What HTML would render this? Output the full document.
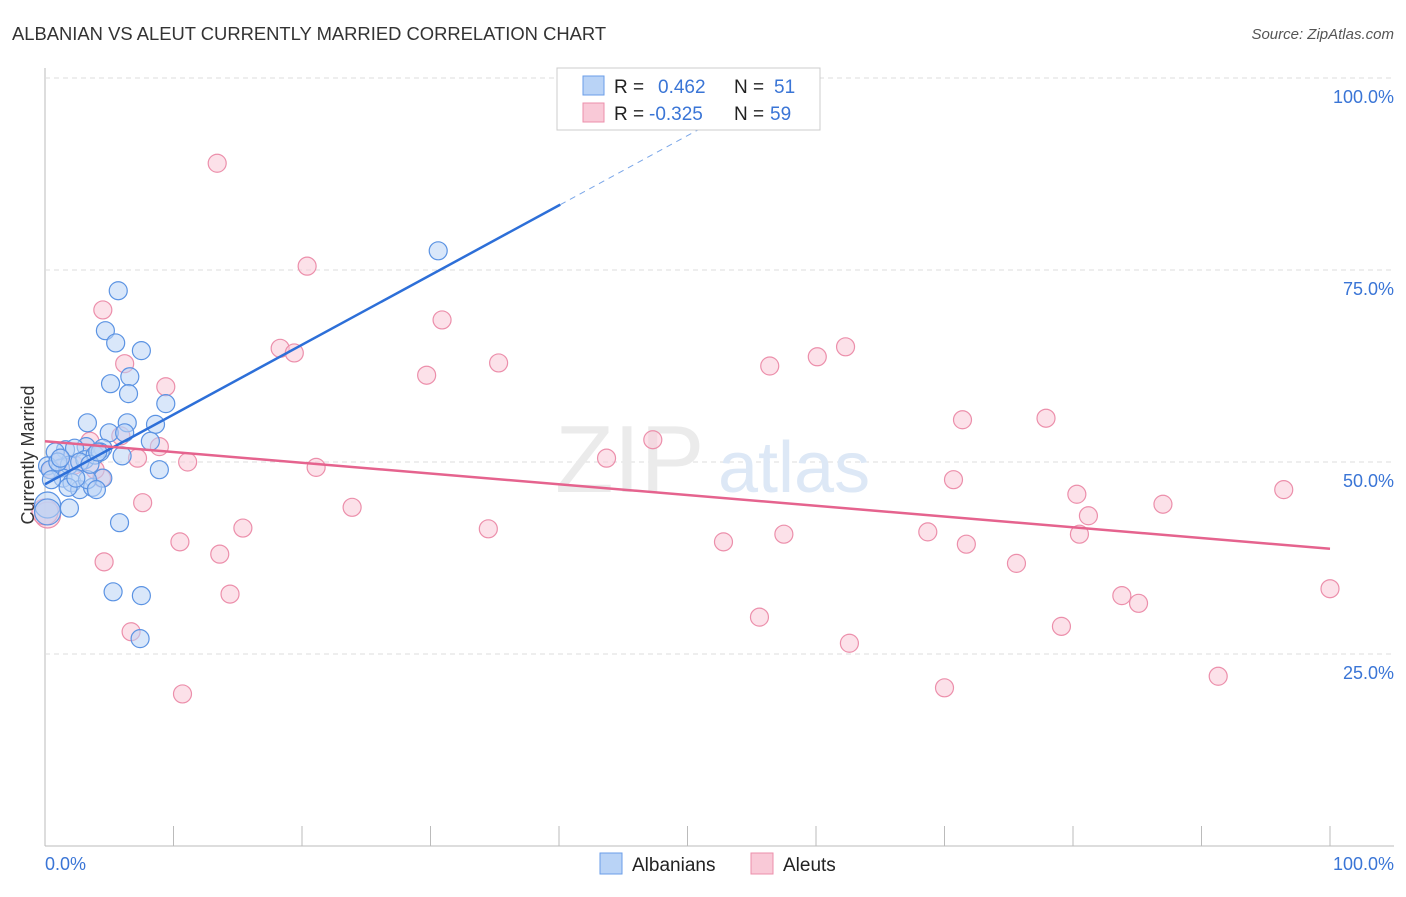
<!DOCTYPE html>
<html><head><meta charset="utf-8"><style>
body{margin:0;background:#fff;font-family:"Liberation Sans",sans-serif;}
svg text{font-family:"Liberation Sans",sans-serif;}
</style></head><body>
<svg id="chart" width="1406" height="892" xmlns="http://www.w3.org/2000/svg">
<text x="12" y="40" font-size="18.4" fill="#333">ALBANIAN VS ALEUT CURRENTLY MARRIED CORRELATION CHART</text>
<text x="1394" y="39" font-size="15" fill="#555" font-style="italic" text-anchor="end">Source: ZipAtlas.com</text>
<g id="grid"></g>
<text x="555" y="492" font-size="96" fill="#ebebeb" font-family="Liberation Serif">ZIP</text>
<text x="718" y="492" font-size="72" fill="#dde8f6">atlas</text>
<g id="pts"></g>
<g id="lines"></g>
<text x="34" y="455" font-size="18" fill="#333" text-anchor="middle" transform="rotate(-90 34 455)">Currently Married</text>
<text x="45" y="870" font-size="18" fill="#3a75d6">0.0%</text>
<text x="1394" y="870" font-size="18" fill="#3a75d6" text-anchor="end">100.0%</text>
<g>
<rect x="557" y="68" width="263" height="62" fill="#fff" stroke="#ccc"/>
<rect x="583" y="76" width="21" height="19" fill="#b9d3f6" stroke="#6a9ee8"/>
<rect x="583" y="103" width="21" height="19" fill="#f9c9d7" stroke="#ec8fab"/>
<text x="614" y="93" font-size="19" fill="#222">R = <tspan x="658" fill="#3a75d6">0.462</tspan><tspan x="734" fill="#222">N = </tspan><tspan x="774" fill="#3a75d6">51</tspan></text>
<text x="614" y="120" font-size="19" fill="#222">R = <tspan x="649" fill="#3a75d6">-0.325</tspan><tspan x="734" fill="#222">N = </tspan><tspan x="770" fill="#3a75d6">59</tspan></text>
</g>
<g>
<rect x="600" y="853" width="22" height="21" fill="#b9d3f6" stroke="#6a9ee8"/>
<text x="632" y="871" font-size="19" fill="#222">Albanians</text>
<rect x="751" y="853" width="22" height="21" fill="#f9c9d7" stroke="#ec8fab"/>
<text x="783" y="871" font-size="19" fill="#222">Aleuts</text>
</g>
</svg>
<script>
const yTicks=[25,50,75,100];
const yTickLabels=["25.0%","50.0%","75.0%","100.0%"];
const xTicks=[0,10,20,30,40,50,60,70,80,90,100];
const blueX=[5.7,4.7,5.5,7.5,5.1,6.6,6.5,9.4,3.3,6.4,8.6,5.0,6.2,8.2,3.2,4.5,6.0,8.9,1.6,0.8,2.3,0.2,1.2,1.9,3.1,3.9,4.3,1.4,2.1,2.7,3.7,4.5,3.3,0.4,1.0,1.8,4.0,1.9,0.2,0.2,5.8,5.3,7.5,7.4,30.6,1.2,2.7,3.5,0.5,2.4,4.1];
const blueY=[72.3,67.1,65.5,64.5,60.2,61.1,58.9,57.6,55.1,55.1,54.9,53.8,53.8,52.7,52.0,51.8,50.8,49.0,51.6,51.3,51.8,49.5,49.2,49.6,50.3,50.9,51.3,47.9,47.3,46.4,46.7,47.9,47.7,49.0,50.0,46.7,46.4,44.0,44.4,43.5,42.1,33.1,32.6,27.0,77.5,50.5,50.0,49.7,47.7,47.9,51.3];
const pinkX=[13.4,20.4,4.5,30.9,18.3,19.4,35.3,29.7,6.2,9.4,5.9,3.5,8.9,7.2,11.1,21.1,1.2,2.3,0.5,4.4,7.6,23.9,15.4,34.5,10.5,13.6,4.6,14.4,6.7,10.7,47.3,43.7,56.4,60.1,62.3,71.4,77.9,70.7,80.3,81.2,80.5,87.0,96.4,68.7,71.7,57.5,52.8,75.6,83.8,85.1,100,79.1,55.6,62.6,70.0,91.3,0.2,0.0,3.9];
const pinkY=[88.9,75.5,69.8,68.5,64.8,64.2,62.9,61.3,62.8,59.8,53.4,52.7,52.0,50.5,50.0,49.3,50.5,49.6,49.0,47.9,44.7,44.1,41.4,41.3,39.6,38.0,37.0,32.8,27.9,19.8,52.9,50.5,62.5,63.7,65.0,55.5,55.7,47.7,45.8,43.0,40.6,44.5,46.4,40.9,39.3,40.6,39.6,36.8,32.6,31.6,33.5,28.6,29.8,26.4,20.6,22.1,43.1,43.5,49.0];
const blueTrend=[47.1,0.908];
const pinkTrend=[52.7,-0.14];
const NS="http://www.w3.org/2000/svg";
const sx=v=>45+v*12.85, sy=v=>846-v*7.68;
function mk(t,a,p){const e=document.createElementNS(NS,t);for(const k in a)e.setAttribute(k,a[k]);p.appendChild(e);return e;}
const grid=document.getElementById('grid');
let ax=mk('line',{x1:45,y1:68,x2:45,y2:846,stroke:'#bbb'},grid);


let bx=mk('line',{x1:45,y1:846,x2:1394,y2:846,stroke:'#bbb'},grid);


yTicks.forEach((t,i)=>{
 let l=mk('line',{x1:45,y1:sy(t),x2:1394,y2:sy(t),stroke:'#ddd','stroke-dasharray':'5,4'},grid);
 
 
 let tx=mk('text',{x:1394,y:sy(t)+25,'font-size':18,fill:'#3a75d6','text-anchor':'end'},grid);
 tx.textContent=yTickLabels[i];
 
 
});
xTicks.forEach(t=>{
 let l=mk('line',{x1:sx(t),y1:826,x2:sx(t),y2:846,stroke:'#bbb'},grid);
 
 
});
const pts=document.getElementById('pts');
function dot(x,y,fill,stroke,name){
 const big=x<0.5&&y<46;
 let c=mk('circle',{cx:sx(x),cy:sy(y),r:big?13:9,fill:fill,'fill-opacity':0.55,stroke:stroke,'stroke-width':1.2},pts);
 
 
}
pinkX.forEach((x,i)=>dot(x,pinkY[i],'#f9c9d7','#ec8fab','aleut-point'));
blueX.forEach((x,i)=>dot(x,blueY[i],'#b9d3f6','#5b93e3','albanian-point'));
const lines=document.getElementById('lines');
let bl=mk('line',{x1:sx(0),y1:sy(blueTrend[0]),x2:sx(40.1),y2:sy(blueTrend[0]+blueTrend[1]*40.1),stroke:'#2d6fd8','stroke-width':2.5},lines);


let bd=mk('line',{x1:sx(40.1),y1:sy(blueTrend[0]+blueTrend[1]*40.1),x2:sx(54),y2:sy(blueTrend[0]+blueTrend[1]*54),stroke:'#7aa6e8','stroke-width':1,'stroke-dasharray':'6,5'},lines);


let pl=mk('line',{x1:sx(0),y1:sy(pinkTrend[0]),x2:sx(100),y2:sy(pinkTrend[0]+pinkTrend[1]*100),stroke:'#e5638e','stroke-width':2.5},lines);


</script>
</body></html>
